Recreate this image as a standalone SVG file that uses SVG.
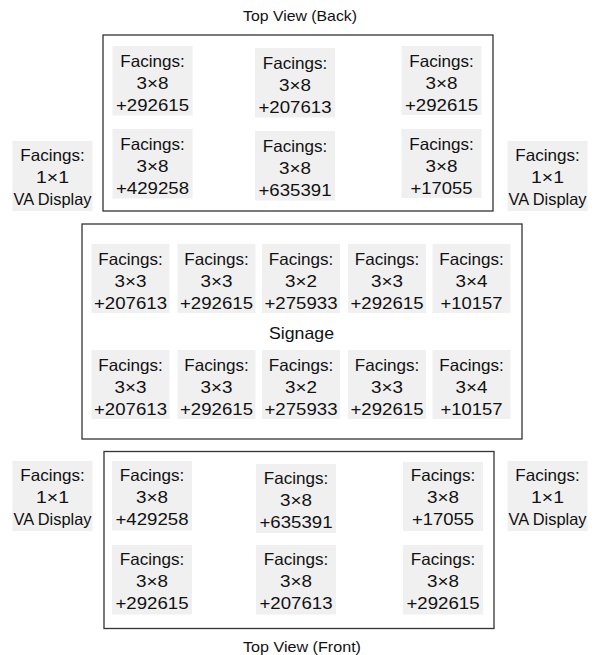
<svg xmlns="http://www.w3.org/2000/svg" width="605" height="655" viewBox="0 0 605 655">
<style>
.frame{fill:none;stroke:#333;stroke-width:1.3}
.cell{fill:#f0f0f0}
text{font-family:"Liberation Sans",Arial,sans-serif;font-size:16.5px;fill:#111;text-anchor:middle}
.title{font-size:15px}
</style>
<rect width="605" height="655" fill="#fff"/>
<g id="connectors"/>
<g id="title-back"><text class="title" x="300" y="21" textLength="114" lengthAdjust="spacingAndGlyphs">Top View (Back)</text></g>
<g id="back-frame"><rect class="frame" x="103" y="35" width="390" height="176"/></g>
<g id="back-r1c1"><rect class="cell" x="112.5" y="46" width="80" height="69.5"/><text x="152.5" y="66.5" textLength="64.5" lengthAdjust="spacingAndGlyphs">Facings:</text><text x="152.5" y="88.5" textLength="32" lengthAdjust="spacingAndGlyphs">3×8</text><text x="152.5" y="110.5" textLength="73" lengthAdjust="spacingAndGlyphs">+292615</text></g>
<g id="back-r1c2"><rect class="cell" x="255" y="48" width="80" height="69.5"/><text x="295" y="68.5" textLength="64.5" lengthAdjust="spacingAndGlyphs">Facings:</text><text x="295" y="90.5" textLength="32" lengthAdjust="spacingAndGlyphs">3×8</text><text x="295" y="112.5" textLength="73" lengthAdjust="spacingAndGlyphs">+207613</text></g>
<g id="back-r1c3"><rect class="cell" x="401.5" y="46" width="80" height="69"/><text x="441.5" y="66.5" textLength="64.5" lengthAdjust="spacingAndGlyphs">Facings:</text><text x="441.5" y="88.5" textLength="32" lengthAdjust="spacingAndGlyphs">3×8</text><text x="441.5" y="110.5" textLength="73" lengthAdjust="spacingAndGlyphs">+292615</text></g>
<g id="back-r2c1"><rect class="cell" x="112.5" y="129" width="80" height="69.5"/><text x="152.5" y="149.5" textLength="64.5" lengthAdjust="spacingAndGlyphs">Facings:</text><text x="152.5" y="171.5" textLength="32" lengthAdjust="spacingAndGlyphs">3×8</text><text x="152.5" y="193.5" textLength="73" lengthAdjust="spacingAndGlyphs">+429258</text></g>
<g id="back-r2c2"><rect class="cell" x="255" y="131" width="80" height="69.5"/><text x="295" y="151.5" textLength="64.5" lengthAdjust="spacingAndGlyphs">Facings:</text><text x="295" y="173.5" textLength="32" lengthAdjust="spacingAndGlyphs">3×8</text><text x="295" y="195.5" textLength="73" lengthAdjust="spacingAndGlyphs">+635391</text></g>
<g id="back-r2c3"><rect class="cell" x="401.5" y="129" width="80" height="69"/><text x="441.5" y="149.5" textLength="64.5" lengthAdjust="spacingAndGlyphs">Facings:</text><text x="441.5" y="171.5" textLength="32" lengthAdjust="spacingAndGlyphs">3×8</text><text x="441.5" y="193.5" textLength="62" lengthAdjust="spacingAndGlyphs">+17055</text></g>
<g id="va-back-left"><rect class="cell" x="12.5" y="141" width="80" height="70"/><text x="52.5" y="161" textLength="64.5" lengthAdjust="spacingAndGlyphs">Facings:</text><text x="52.5" y="183" textLength="33" lengthAdjust="spacingAndGlyphs">1×1</text><text x="52.5" y="205" textLength="78" lengthAdjust="spacingAndGlyphs">VA Display</text></g>
<g id="va-back-right"><rect class="cell" x="507.5" y="141" width="80" height="70"/><text x="547.5" y="161" textLength="64.5" lengthAdjust="spacingAndGlyphs">Facings:</text><text x="547.5" y="183" textLength="33" lengthAdjust="spacingAndGlyphs">1×1</text><text x="547.5" y="205" textLength="78" lengthAdjust="spacingAndGlyphs">VA Display</text></g>
<g id="mid-frame"><rect class="frame" x="82" y="224" width="440" height="215"/></g>
<g id="mid-r1c1"><rect class="cell" x="91.5" y="244" width="78" height="69"/><text x="130.5" y="264.5" textLength="64.5" lengthAdjust="spacingAndGlyphs">Facings:</text><text x="130.5" y="286.5" textLength="32" lengthAdjust="spacingAndGlyphs">3×3</text><text x="130.5" y="308.5" textLength="73" lengthAdjust="spacingAndGlyphs">+207613</text></g>
<g id="mid-r1c2"><rect class="cell" x="177.5" y="244" width="78" height="69"/><text x="216.5" y="264.5" textLength="64.5" lengthAdjust="spacingAndGlyphs">Facings:</text><text x="216.5" y="286.5" textLength="32" lengthAdjust="spacingAndGlyphs">3×3</text><text x="216.5" y="308.5" textLength="73" lengthAdjust="spacingAndGlyphs">+292615</text></g>
<g id="mid-r1c3"><rect class="cell" x="262" y="244" width="78" height="69"/><text x="301" y="264.5" textLength="64.5" lengthAdjust="spacingAndGlyphs">Facings:</text><text x="301" y="286.5" textLength="32" lengthAdjust="spacingAndGlyphs">3×2</text><text x="301" y="308.5" textLength="73" lengthAdjust="spacingAndGlyphs">+275933</text></g>
<g id="mid-r1c4"><rect class="cell" x="348" y="244" width="78" height="69"/><text x="387" y="264.5" textLength="64.5" lengthAdjust="spacingAndGlyphs">Facings:</text><text x="387" y="286.5" textLength="32" lengthAdjust="spacingAndGlyphs">3×3</text><text x="387" y="308.5" textLength="73" lengthAdjust="spacingAndGlyphs">+292615</text></g>
<g id="mid-r1c5"><rect class="cell" x="432.5" y="244" width="78" height="69"/><text x="471.5" y="264.5" textLength="64.5" lengthAdjust="spacingAndGlyphs">Facings:</text><text x="471.5" y="286.5" textLength="32" lengthAdjust="spacingAndGlyphs">3×4</text><text x="471.5" y="308.5" textLength="62" lengthAdjust="spacingAndGlyphs">+10157</text></g>
<g id="signage"><text x="301.5" y="338.5" textLength="65" lengthAdjust="spacingAndGlyphs">Signage</text></g>
<g id="mid-r2c1"><rect class="cell" x="91.5" y="350" width="78" height="69"/><text x="130.5" y="370.5" textLength="64.5" lengthAdjust="spacingAndGlyphs">Facings:</text><text x="130.5" y="392.5" textLength="32" lengthAdjust="spacingAndGlyphs">3×3</text><text x="130.5" y="414.5" textLength="73" lengthAdjust="spacingAndGlyphs">+207613</text></g>
<g id="mid-r2c2"><rect class="cell" x="177.5" y="350" width="78" height="69"/><text x="216.5" y="370.5" textLength="64.5" lengthAdjust="spacingAndGlyphs">Facings:</text><text x="216.5" y="392.5" textLength="32" lengthAdjust="spacingAndGlyphs">3×3</text><text x="216.5" y="414.5" textLength="73" lengthAdjust="spacingAndGlyphs">+292615</text></g>
<g id="mid-r2c3"><rect class="cell" x="262" y="350" width="78" height="69"/><text x="301" y="370.5" textLength="64.5" lengthAdjust="spacingAndGlyphs">Facings:</text><text x="301" y="392.5" textLength="32" lengthAdjust="spacingAndGlyphs">3×2</text><text x="301" y="414.5" textLength="73" lengthAdjust="spacingAndGlyphs">+275933</text></g>
<g id="mid-r2c4"><rect class="cell" x="348" y="350" width="78" height="69"/><text x="387" y="370.5" textLength="64.5" lengthAdjust="spacingAndGlyphs">Facings:</text><text x="387" y="392.5" textLength="32" lengthAdjust="spacingAndGlyphs">3×3</text><text x="387" y="414.5" textLength="73" lengthAdjust="spacingAndGlyphs">+292615</text></g>
<g id="mid-r2c5"><rect class="cell" x="432.5" y="350" width="78" height="69"/><text x="471.5" y="370.5" textLength="64.5" lengthAdjust="spacingAndGlyphs">Facings:</text><text x="471.5" y="392.5" textLength="32" lengthAdjust="spacingAndGlyphs">3×4</text><text x="471.5" y="414.5" textLength="62" lengthAdjust="spacingAndGlyphs">+10157</text></g>
<g id="front-frame"><rect class="frame" x="104" y="451.5" width="390" height="177"/></g>
<g id="front-r1c1"><rect class="cell" x="112" y="461" width="80" height="69.5"/><text x="152" y="480.5" textLength="64.5" lengthAdjust="spacingAndGlyphs">Facings:</text><text x="152" y="502.5" textLength="32" lengthAdjust="spacingAndGlyphs">3×8</text><text x="152" y="524.5" textLength="73" lengthAdjust="spacingAndGlyphs">+429258</text></g>
<g id="front-r1c2"><rect class="cell" x="256" y="464" width="80" height="69"/><text x="296" y="483.5" textLength="64.5" lengthAdjust="spacingAndGlyphs">Facings:</text><text x="296" y="505.5" textLength="32" lengthAdjust="spacingAndGlyphs">3×8</text><text x="296" y="527.5" textLength="73" lengthAdjust="spacingAndGlyphs">+635391</text></g>
<g id="front-r1c3"><rect class="cell" x="403" y="462" width="80" height="69"/><text x="443" y="481" textLength="64.5" lengthAdjust="spacingAndGlyphs">Facings:</text><text x="443" y="503" textLength="32" lengthAdjust="spacingAndGlyphs">3×8</text><text x="443" y="525" textLength="62" lengthAdjust="spacingAndGlyphs">+17055</text></g>
<g id="front-r2c1"><rect class="cell" x="112" y="545" width="80" height="69.5"/><text x="152" y="565" textLength="64.5" lengthAdjust="spacingAndGlyphs">Facings:</text><text x="152" y="587" textLength="32" lengthAdjust="spacingAndGlyphs">3×8</text><text x="152" y="609" textLength="73" lengthAdjust="spacingAndGlyphs">+292615</text></g>
<g id="front-r2c2"><rect class="cell" x="256" y="545" width="80" height="69.5"/><text x="296" y="565" textLength="64.5" lengthAdjust="spacingAndGlyphs">Facings:</text><text x="296" y="587" textLength="32" lengthAdjust="spacingAndGlyphs">3×8</text><text x="296" y="609" textLength="73" lengthAdjust="spacingAndGlyphs">+207613</text></g>
<g id="front-r2c3"><rect class="cell" x="403" y="545" width="80" height="69.5"/><text x="443" y="565" textLength="64.5" lengthAdjust="spacingAndGlyphs">Facings:</text><text x="443" y="587" textLength="32" lengthAdjust="spacingAndGlyphs">3×8</text><text x="443" y="609" textLength="73" lengthAdjust="spacingAndGlyphs">+292615</text></g>
<g id="va-front-left"><rect class="cell" x="12.5" y="461" width="80" height="70"/><text x="52.5" y="480.5" textLength="64.5" lengthAdjust="spacingAndGlyphs">Facings:</text><text x="52.5" y="502.5" textLength="33" lengthAdjust="spacingAndGlyphs">1×1</text><text x="52.5" y="524.5" textLength="78" lengthAdjust="spacingAndGlyphs">VA Display</text></g>
<g id="va-front-right"><rect class="cell" x="507.5" y="461" width="80" height="70"/><text x="547.5" y="480.5" textLength="64.5" lengthAdjust="spacingAndGlyphs">Facings:</text><text x="547.5" y="502.5" textLength="33" lengthAdjust="spacingAndGlyphs">1×1</text><text x="547.5" y="524.5" textLength="78" lengthAdjust="spacingAndGlyphs">VA Display</text></g>
<g id="title-front"><text class="title" x="302" y="651.5" textLength="118" lengthAdjust="spacingAndGlyphs">Top View (Front)</text></g>
</svg>
